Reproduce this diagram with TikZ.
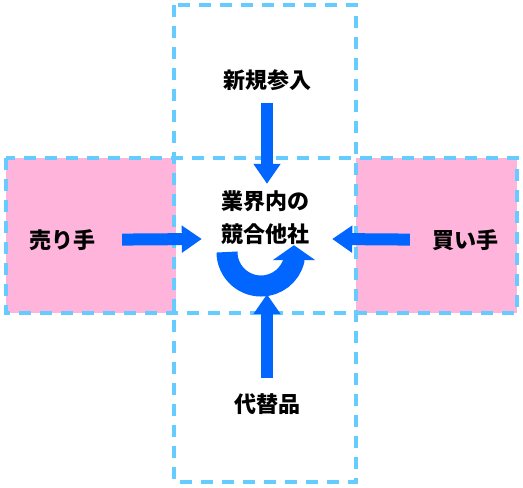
\documentclass[tikz,border=0pt]{standalone}
\usepackage{fontspec}
\newfontfamily\cjk{Noto Sans CJK JP}
\usetikzlibrary{arrows.meta}
\definecolor{dashblue}{RGB}{102,204,255}
\definecolor{forceblue}{RGB}{0,102,255}
\definecolor{marketpink}{RGB}{255,180,220}

\begin{document}
\begin{tikzpicture}[x=1pt,y=-1pt,
  zone/.style={draw=dashblue,line width=3.2pt,dash pattern=on 12pt off 9pt},
  side/.style={fill=marketpink},
  force/.style={font=\cjk\bfseries\fontsize{22}{33}\selectfont,inner sep=0pt,align=center},
  arrow/.style={-{Triangle[length=20pt,width=26pt]},forceblue,line width=12pt},
  curl/.style={-{Triangle[length=15pt,width=42pt]},forceblue,line width=21pt}
]
\useasboundingbox (0,0) rectangle (523,488);
% buyer and seller sides
\fill[side] (6,158) rectangle (176,313);
\fill[side] (356,158) rectangle (517,313);
\draw[zone] (174,5) rectangle (356,482);
\draw[zone] (6,158) rectangle (517,313);
\node[force] (entry) at (267,80) {新規参入};
\node[force] (seller) at (63,240) {売り手};
\node[force] (buyer) at (465,240) {買い手};
\node[force] (rivals) at (265,218) {業界内の\\競合他社};
\node[force] (substitute) at (267,404) {代替品};
\node[minimum width=130pt,minimum height=110pt,inner sep=0pt] (core) at (267,239) {};
\draw[arrow,shorten <=12pt] (entry) -- (core.north);
\draw[arrow,shorten <=26pt] (seller) -- (core.west);
\draw[arrow,shorten <=22pt] (buyer) -- (core.east);
\draw[arrow,shorten <=15pt] (substitute) -- (core.south);
% rivalry inside the industry
\draw[curl] (227,252) arc[start angle=180,end angle=14,radius=34] -- ++(0,-15);
\end{tikzpicture}
\end{document}
